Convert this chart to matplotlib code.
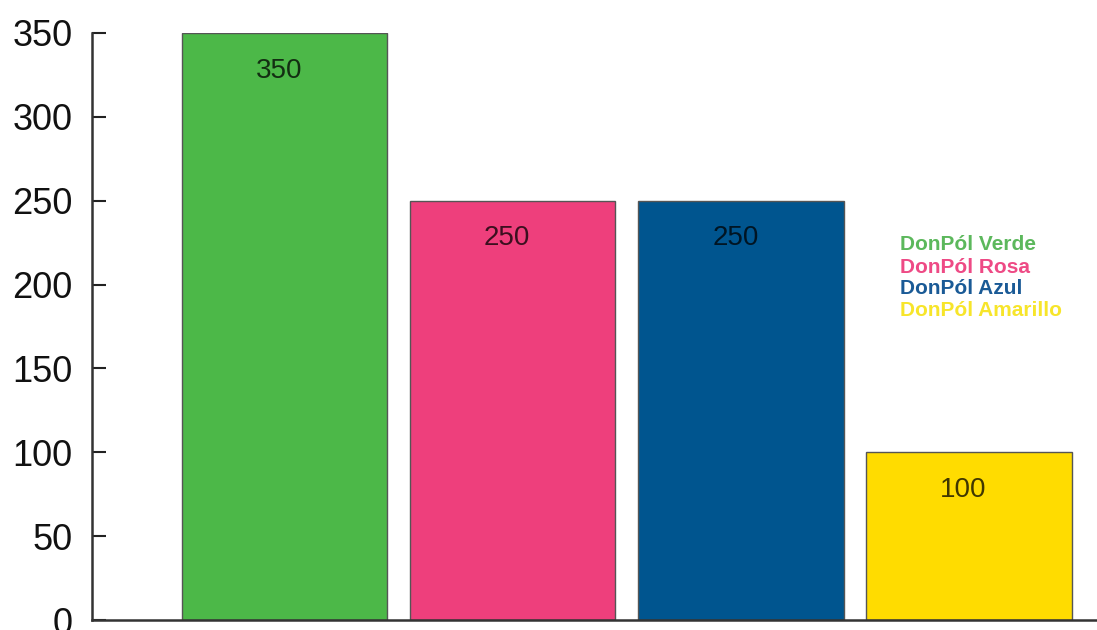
import matplotlib
matplotlib.use("Agg")
import matplotlib.pyplot as plt

categories = ["DonPól Verde", "DonPól Rosa", "DonPól Azul", "DonPól Amarillo"]
values = [350, 250, 250, 100]
bar_colors = ["#4cb848", "#ee3f7c", "#00558f", "#ffdc00"]
legend_colors = ["#5cb85c", "#ee4a85", "#1a5a96", "#f7e52a"]
yticks = [0, 50, 100, 150, 200, 250, 300, 350]

plt.rcParams['font.family'] = ['Liberation Sans', 'DejaVu Sans']

fig = plt.figure(figsize=(10.97, 6.30), dpi=100)
ax = fig.add_axes([92/1097, (630-620)/630, 1 - 92/1097, (620-33)/630])

x = list(range(len(values)))
ax.bar(x, values, width=0.9, color=bar_colors, edgecolor="#555555", linewidth=1.0, zorder=2)

for xi, v in zip(x, values):
    ax.annotate(str(v), (xi, v), xytext=(-4, -27), textcoords="offset points",
                ha="center", va="center", fontsize=20, color="black", alpha=0.75)

ax.set_xlim(-0.843, 3.56)
ax.set_ylim(0, 350)
ax.set_yticks(yticks)
ax.set_yticklabels([str(t) for t in yticks], fontsize=26)
ax.tick_params(axis='y', direction='in', length=10, width=1.5, color="#222222", pad=14, labelcolor="#111111")
ax.tick_params(axis='x', bottom=False, labelbottom=False)
for s in ["top", "right"]:
    ax.spines[s].set_visible(False)
for s in ["left", "bottom"]:
    ax.spines[s].set_linewidth(1.8)
    ax.spines[s].set_color("#333333")

# legend as colored text
y0 = 245
for i, (name, c) in enumerate(zip(categories, legend_colors)):
    fig.text(900/1097, 1 - (y0 + 22*i)/630, name, color=c, fontsize=15, fontweight="bold",
             ha="left", va="center")

fig.savefig("out.png", dpi=100)
